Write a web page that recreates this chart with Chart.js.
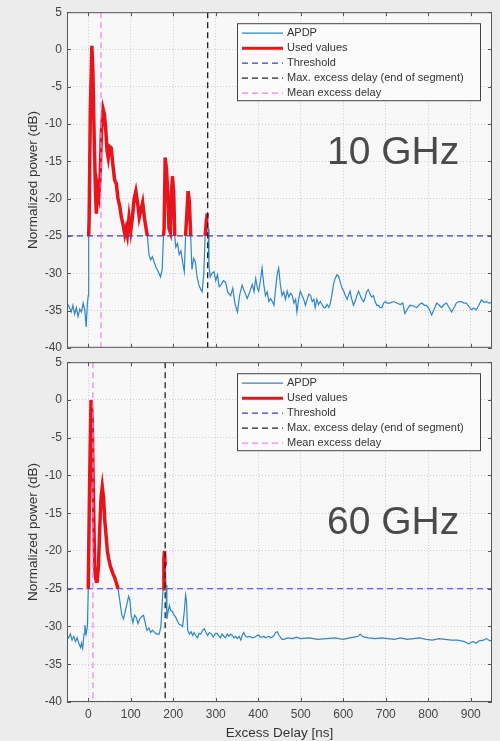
<!DOCTYPE html>
<html>
<head>
<meta charset="utf-8">
<title>APDP 10 GHz / 60 GHz</title>
<script src="https://cdn.jsdelivr.net/npm/chart.js@4.4.1/dist/chart.umd.min.js"></script>
<style>
  html, body { margin: 0; padding: 0; background: #ececec; }
  body { width: 500px; height: 741px; position: relative; overflow: hidden; }
  canvas { position: absolute; left: 0; }
  #chart10 { top: 0; }
  #chart60 { top: 350px; }
</style>
</head>
<body>
<canvas id="chart10" width="500" height="360"></canvas>
<canvas id="chart60" width="500" height="391"></canvas>
<script>
// axis ticks
const xTicks = [0, 100, 200, 300, 400, 500, 600, 700, 800, 900];
const yTicks = [-40, -35, -30, -25, -20, -15, -10, -5, 0, 5];

const threshold = -25;

// 10 GHz
const delay10 = [-50, -45, -40, -36, -32, -28, -24, -20, -16, -12, -8, -5, -2, 0, 1, 2, 5, 8.5, 11, 14, 17, 19, 22, 25, 28, 31, 35, 38, 41, 44, 47, 50, 54, 58, 62, 66, 70, 74, 78, 82, 86, 89, 92, 96, 100, 104, 108, 112, 116, 120, 124, 128, 132, 136, 139, 143, 147, 151, 155, 160, 165, 170, 174, 177, 178.5, 181, 184, 187, 190, 193, 196, 198, 201, 203.5, 206, 210, 214, 218, 222, 226, 229, 232, 235, 238, 241, 244, 248, 252, 256, 260, 265, 268, 272, 275, 278, 280, 282, 284, 287, 291, 296, 300, 304, 308, 312, 318, 323, 328, 335, 340, 345, 351, 356, 362, 368, 374, 380, 386, 390, 394, 398, 401, 405, 409, 413, 417, 421, 425, 429, 433, 437, 441, 445, 448, 452, 456, 460, 464, 468, 472, 476, 480, 484, 488, 491, 495, 499, 503, 507, 511, 515, 519, 523, 527, 531, 534, 538, 542, 546, 550, 554, 558, 562, 566, 569, 573, 577, 581, 585, 589, 593, 597, 601, 605, 609, 612, 616, 620, 624, 628, 632, 636, 640, 644, 648, 651, 655, 659, 663, 667, 671, 675, 679, 683, 687, 691, 695, 699, 703, 710, 718, 726, 734, 740, 745, 751, 757, 765, 773, 779, 785, 791, 796, 802, 808, 814, 820, 826, 831, 837, 843, 849, 855, 861, 866, 872, 878, 884, 890, 896, 901, 907, 913, 919, 925, 931, 937, 943, 950];
const apdp10 = [-34.0, -34.5, -35.2, -34.3, -35.5, -34.6, -35.8, -34.8, -35.2, -34.0, -35.0, -37.2, -34.0, -33.0, -25.0, -23.0, -8, 0.5, -3, -12, -19, -22, -18.5, -19.5, -17, -11, -8, -8.7, -10.5, -13.5, -14.5, -13, -13.2, -15.5, -17.5, -18, -20, -21, -22.5, -23.5, -24.8, -24, -24.9, -22.5, -24.3, -22.5, -20, -19, -20.5, -22.5, -21.5, -20.5, -22.5, -24.0, -25, -27.5, -28.2, -27.8, -28.5, -29.3, -29.8, -30.5, -29.5, -25.0, -24, -14.5, -16, -19, -24.0, -24.5, -19, -17, -19, -25, -26.5, -26, -27.5, -27, -28.5, -29.8, -25.0, -22, -19, -20.5, -25, -29.5, -28, -28.5, -30.5, -31.5, -32.2, -32.5, -30, -25, -23, -22, -24, -29, -30.5, -30, -29.8, -31, -30.2, -31.8, -31.6, -31, -31.2, -32.5, -33, -32, -34, -35.2, -33, -31.6, -32.5, -33.4, -32.5, -31.5, -32.5, -30.7, -32, -32.4, -31, -29.3, -31.5, -33, -32.5, -33.8, -33.4, -33.8, -34.3, -32, -30, -29.3, -31.5, -33, -32.5, -33.5, -32.4, -33.2, -32.7, -33, -34, -33.5, -35.2, -33.5, -32.4, -33, -33.5, -34.3, -33.5, -32.8, -33, -33.8, -33.5, -34.6, -33.5, -34.2, -33.8, -34.2, -34.6, -34.6, -34.2, -34.6, -34.2, -33, -31.5, -30.7, -30.2, -30.4, -31.2, -32, -32.4, -33, -33.5, -33, -32.4, -33.5, -34.3, -33.8, -33, -32.4, -33, -33.5, -33.8, -33.4, -32.5, -32.2, -32.8, -33.2, -33, -33.8, -34.3, -34.3, -34.6, -34.6, -34, -33.8, -34, -34, -33.8, -34, -34.2, -34, -35.4, -34.8, -34.3, -34.4, -34.6, -34.2, -34, -34.3, -34.3, -34.8, -35.6, -34.8, -34, -34.3, -34.6, -34.2, -34, -34.6, -35.2, -34.6, -34, -33.8, -33.8, -34, -34, -34.5, -34.9, -34.7, -34.9, -34.3, -33.6, -33.9, -33.8, -34, -33.9];
const maxExcess10 = 281;
const meanExcess10 = 30;

// 60 GHz
const delay60 = [-50, -46, -42, -38, -34, -30, -26, -22, -18, -16, -13, -10, -8, -5, -2, 0, 3, 6.5, 9, 12, 15, 17, 19, 21, 24, 27, 30, 33, 36, 39, 42, 45, 48, 52, 55, 58, 62, 66, 70, 74, 79, 83, 87, 91, 95, 98, 101, 105, 109, 113, 117, 121, 125, 130, 134, 138, 143, 147, 151, 156, 161, 167, 171, 174, 176, 178, 179.5, 181, 183, 185, 188, 191, 194, 198, 202, 206, 210, 214, 218, 222, 226, 229, 231, 234, 238, 242, 246, 249, 253, 257, 261, 265, 269, 273, 277, 281, 285, 290, 294, 298, 303, 307, 311, 315, 319, 323, 327, 331, 335, 339, 343, 347, 351, 355, 359, 362, 366, 370, 374, 380, 386, 392, 398, 401, 405, 409, 413, 417, 421, 425, 429, 433, 437, 441, 445, 449, 452, 456, 460, 470, 480, 490, 500, 520, 540, 560, 580, 600, 615, 625, 635, 640, 645, 650, 660, 675, 690, 705, 720, 735, 750, 765, 780, 795, 810, 825, 840, 855, 870, 885, 895, 905, 913, 920, 930, 937, 945, 950];
const apdp60 = [-31.2, -31.5, -31.0, -31.8, -31.3, -32, -31.5, -32.3, -32.8, -32.2, -32.9, -31, -29.8, -31, -30, -25, -12, 0, -2, -12, -22, -23.5, -24, -24, -22, -17, -13, -11.5, -13, -16, -18, -20, -21, -22, -22.5, -23, -23.5, -24.2, -25, -26.5, -28.5, -29, -28, -27, -26, -26.5, -28.5, -29.5, -28.5, -28.8, -29.6, -29, -28.7, -28.5, -29.5, -30.5, -30.2, -30.8, -30.5, -30.8, -31, -31, -30, -27, -25, -21, -20, -22, -24.5, -29, -28, -27.2, -27.9, -28, -28.5, -28.8, -29.3, -29.7, -29.8, -30, -28, -25.8, -26.5, -30.5, -31, -30.7, -31.2, -30.8, -31.2, -31.5, -30.9, -31, -30.5, -30.3, -30.8, -31.2, -30.8, -31, -31.4, -31, -30.9, -31.2, -31.5, -31, -31.3, -31.5, -31, -31.3, -31, -31.2, -31.5, -31.3, -31.6, -31.3, -31.8, -31.2, -30.8, -31.3, -31.4, -31.3, -31.5, -31.4, -31.2, -31.1, -31.4, -31.4, -31.3, -31.5, -31.4, -31.3, -31.5, -31.4, -31.2, -30.8, -30.7, -31.2, -31.4, -31.7, -31.7, -31.5, -31.6, -31.4, -31.6, -31.5, -31.7, -31.6, -31.5, -31.7, -31.5, -31.4, -31.3, -31.0, -31.3, -31.4, -31.5, -31.6, -31.5, -31.6, -31.7, -31.5, -31.7, -31.6, -31.5, -31.7, -31.8, -31.6, -31.7, -31.8, -31.8, -32.0, -32.3, -32.0, -32.2, -31.9, -31.8, -31.6, -31.9, -31.8];
const maxExcess60 = 181;
const meanExcess60 = 11;

const FONT = "'Liberation Sans', Arial, sans-serif";

const legendItems = [
    { label: 'APDP', color: '#2f86c8', width: 1.2, dash: [] },
    { label: 'Used values', color: '#e8141c', width: 3.5, dash: [] },
    { label: 'Threshold', color: '#3c3cd2', width: 1.2, dash: [6, 4] },
    { label: 'Max. excess delay (end of segment)', color: '#222222', width: 1.3, dash: [6, 4] },
    { label: 'Mean excess delay', color: '#ee82ee', width: 1.2, dash: [6, 4] }
];

// plot background, box with inward ticks, legend and GHz label
const panelPlugin = {
    id: 'panel',
    beforeDraw(chart) {
        const a = chart.chartArea, ctx = chart.ctx;
        ctx.save();
        ctx.fillStyle = '#f8f8f8';
        ctx.fillRect(a.left, a.top, a.right - a.left, a.bottom - a.top);
        ctx.restore();
    },
    afterDraw(chart, args, opts) {
        const a = chart.chartArea, ctx = chart.ctx;
        const xs = chart.scales.x, ys = chart.scales.y;
        ctx.save();
        ctx.strokeStyle = '#555';
        ctx.lineWidth = 1;
        ctx.strokeRect(a.left + 0.5, a.top + 0.5, a.right - a.left - 1, a.bottom - a.top - 1);
        ctx.beginPath();
        xTicks.forEach(v => {
            const px = Math.round(xs.getPixelForValue(v)) + 0.5;
            ctx.moveTo(px, a.bottom); ctx.lineTo(px, a.bottom - 4);
            ctx.moveTo(px, a.top); ctx.lineTo(px, a.top + 4);
        });
        yTicks.forEach(v => {
            const py = Math.round(ys.getPixelForValue(v)) + 0.5;
            ctx.moveTo(a.left, py); ctx.lineTo(a.left + 4, py);
            ctx.moveTo(a.right, py); ctx.lineTo(a.right - 4, py);
        });
        ctx.stroke();

        // legend box
        const lx = a.left + 170, ly = a.top + 11, lw = 243, lh = 77;
        ctx.fillStyle = '#fbfbfb';
        ctx.fillRect(lx, ly, lw, lh);
        ctx.strokeStyle = '#444';
        ctx.strokeRect(lx + 0.5, ly + 0.5, lw, lh);
        ctx.font = '11px ' + FONT;
        ctx.textBaseline = 'middle';
        legendItems.forEach((it, i) => {
            const y = ly + 10 + i * 15;
            ctx.beginPath();
            ctx.strokeStyle = it.color;
            ctx.lineWidth = Math.min(it.width, 3);
            ctx.setLineDash(it.dash);
            ctx.moveTo(lx + 5, y);
            ctx.lineTo(lx + 46, y);
            ctx.stroke();
            ctx.setLineDash([]);
            ctx.fillStyle = '#333';
            ctx.fillText(it.label, lx + 50, y);
        });

        ctx.font = '39px ' + FONT;
        ctx.fillStyle = '#4a4a4a';
        ctx.textBaseline = 'middle';
        ctx.fillText(opts.label, opts.labelX, opts.labelY);
        ctx.restore();
    }
};

function buildChart(canvasId, p) {
    const apdp = p.delay.map((d, i) => ({ x: d, y: p.power[i] }));
    const used = p.delay.map((d, i) => ({
        x: d,
        y: (d >= 0 && d <= p.maxExcess && p.power[i] >= threshold) ? p.power[i] : null
    }));
    const thr = [{ x: -50, y: threshold }, { x: 950, y: threshold }];
    const maxLine = [{ x: p.maxExcess, y: 5 }, { x: p.maxExcess, y: -40 }];
    const meanLine = [{ x: p.meanExcess, y: 5 }, { x: p.meanExcess, y: -40 }];

    const line = (label, data, it, order) => ({
        label: label, data: data, order: order,
        borderColor: it.color, borderWidth: it.width, borderDash: it.dash,
        pointRadius: 0, tension: 0, fill: false, spanGaps: false
    });

    return new Chart(document.getElementById(canvasId), {
        type: 'line',
        data: {
            datasets: [
                line('APDP', apdp, legendItems[0], 5),
                line('Used values', used, legendItems[1], 4),
                line('Threshold', thr, legendItems[2], 3),
                line('Max. excess delay (end of segment)', maxLine, legendItems[3], 2),
                line('Mean excess delay', meanLine, legendItems[4], 1)
            ]
        },
        options: {
            responsive: false,
            animation: false,
            layout: { padding: { top: p.padTop, right: 8, left: 25, bottom: 0 } },
            plugins: {
                legend: { display: false },
                tooltip: { enabled: false },
                panel: { label: p.label, labelX: 327, labelY: p.labelY }
            },
            scales: {
                x: {
                    type: 'linear', min: -50, max: 950,
                    afterBuildTicks: s => { s.ticks = xTicks.map(v => ({ value: v })); },
                    afterFit: s => { s.height = p.xHeight; },
                    grid: { color: '#cdcdcd', drawTicks: false },
                    border: { display: false, dash: [1, 2] },
                    ticks: { display: p.showX, padding: 5, color: '#444', font: { family: FONT, size: 12 } },
                    title: { display: p.showX, text: 'Excess Delay [ns]', color: '#333', padding: 0, font: { family: FONT, size: 13.5 } }
                },
                y: {
                    type: 'linear', min: -40, max: 5,
                    afterBuildTicks: s => { s.ticks = yTicks.map(v => ({ value: v })); },
                    afterFit: s => { s.width = 42; },
                    grid: { color: '#cdcdcd', drawTicks: false },
                    border: { display: false, dash: [1, 2] },
                    ticks: { padding: 5, color: '#444', font: { family: FONT, size: 12 } },
                    title: { display: true, text: 'Normalized power (dB)', color: '#333', padding: 0, font: { family: FONT, size: 13.5 } }
                }
            }
        },
        plugins: [panelPlugin]
    });
}

document.addEventListener('DOMContentLoaded', function() {
    buildChart('chart10', {
        delay: delay10, power: apdp10, maxExcess: maxExcess10, meanExcess: meanExcess10,
        label: '10 GHz', labelY: 153, padTop: 12, xHeight: 12, showX: false
    });
    buildChart('chart60', {
        delay: delay60, power: apdp60, maxExcess: maxExcess60, meanExcess: meanExcess60,
        label: '60 GHz', labelY: 173, padTop: 11, xHeight: 39, showX: true
    });
});
</script>
</body>
</html>
